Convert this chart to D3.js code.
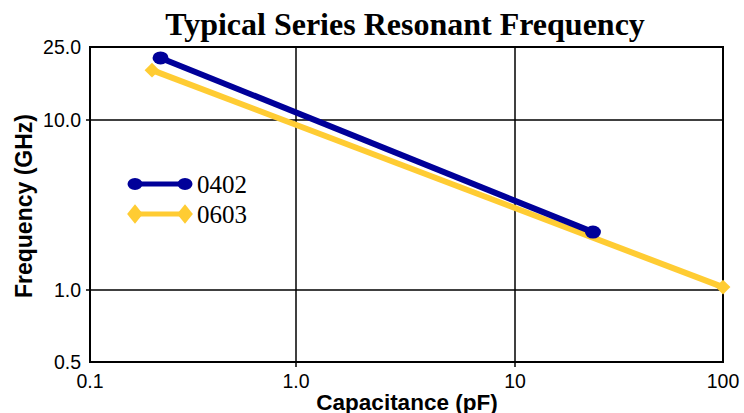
<!DOCTYPE html>
<html>
<head>
<meta charset="utf-8">
<script src="https://cdn.jsdelivr.net/npm/d3@7"></script>
<style>
  html, body { margin: 0; padding: 0; background: #fff; }
  svg { display: block; }
</style>
</head>
<body>
<svg id="chart" width="744" height="413"></svg>
<script>
// Resonant frequency (GHz) vs capacitance (pF), two case sizes
const series0402 = [
  { c: 0.22, f: 21.8 },
  { c: 23.7, f: 2.19 }
];
const series0603 = [
  { c: 0.20, f: 18.7 },
  { c: 100, f: 1.04 }
];
const xTicks = [0.1, 1, 10, 100];
const xTickLabels = ["0.1", "1.0", "10", "100"];
const yTicks = [0.5, 1, 10, 25];
const yTickLabels = ["0.5", "1.0", "10.0", "25.0"];
const legendNames = ["0402", "0603"];

const svg = d3.select("#chart");
const plotLeft = 90, plotRight = 723, plotTop = 47, plotBottom = 362;
const sans = "Liberation Sans, Arial, Helvetica, sans-serif";
const serif = "Liberation Serif, Times New Roman, serif";

// Piecewise log axes: each labelled decade gets its own span
const xLin = d3.scaleLinear()
  .domain(xTicks.map(Math.log10))
  .range([plotLeft, 296, 515, plotRight]);
const yLin = d3.scaleLinear()
  .domain(yTicks.map(Math.log10))
  .range([plotBottom, 290, 120, plotTop]);
const x = v => xLin(Math.log10(v));
const y = v => yLin(Math.log10(v));

// Grid
const g = svg.append("g");
g.selectAll("line.vx").data(xTicks.slice(1, -1)).enter().append("line")
  .attr("x1", d => x(d)).attr("x2", d => x(d))
  .attr("y1", plotTop).attr("y2", plotBottom + 5)
  .attr("stroke", "#000").attr("stroke-width", 1.5);
g.selectAll("line.hy").data(yTicks.slice(1, -1)).enter().append("line")
  .attr("x1", plotLeft - 4).attr("x2", plotRight)
  .attr("y1", d => y(d)).attr("y2", d => y(d))
  .attr("stroke", "#000").attr("stroke-width", 1.5);

// Plot frame
g.append("rect")
  .attr("x", plotLeft).attr("y", plotTop)
  .attr("width", plotRight - plotLeft).attr("height", plotBottom - plotTop)
  .attr("fill", "none").attr("stroke", "#000").attr("stroke-width", 2);

// Tick labels
svg.selectAll("text.xt").data(xTicks).enter().append("text")
  .attr("x", d => x(d)).attr("y", 388)
  .attr("text-anchor", "middle")
  .attr("font-family", sans)
  .attr("font-size", 19.5)
  .text((d, i) => xTickLabels[i]);
svg.selectAll("text.yt").data(yTicks).enter().append("text")
  .attr("x", 81).attr("y", d => y(d) + 7)
  .attr("text-anchor", "end")
  .attr("font-family", sans)
  .attr("font-size", 19.5)
  .text((d, i) => yTickLabels[i]);

// Axis titles
svg.append("text")
  .attr("x", 407).attr("y", 410)
  .attr("text-anchor", "middle")
  .attr("font-family", sans)
  .attr("font-weight", "bold").attr("font-size", 22.5)
  .text("Capacitance (pF)");
svg.append("text")
  .attr("transform", "translate(32,206) rotate(-90)")
  .attr("text-anchor", "middle")
  .attr("font-family", sans)
  .attr("font-weight", "bold").attr("font-size", 23)
  .text("Frequency (GHz)");

// Title
svg.append("text")
  .attr("x", 405).attr("y", 35)
  .attr("text-anchor", "middle")
  .attr("font-family", serif)
  .attr("font-weight", "bold").attr("font-size", 32)
  .text("Typical Series Resonant Frequency");

const blue = "#000099", gold = "#FFCC33";
const line = d3.line().x(d => x(d.c)).y(d => y(d.f));

const diamond = d3.symbol().type(d3.symbolDiamond).size(150);
const square = d3.symbol().type(d3.symbolSquare).size(110);

// 0603 series
svg.append("path").datum(series0603)
  .attr("d", line).attr("fill", "none")
  .attr("stroke", gold).attr("stroke-width", 6);
svg.selectAll("path.m603").data(series0603).enter().append("path")
  .attr("d", square)
  .attr("transform", d => `translate(${x(d.c)},${y(d.f)}) rotate(45)`)
  .attr("fill", gold);

// 0402 series
svg.append("path").datum(series0402)
  .attr("d", line).attr("fill", "none")
  .attr("stroke", blue).attr("stroke-width", 6);
svg.selectAll("ellipse.m402").data(series0402).enter().append("ellipse")
  .attr("cx", d => x(d.c)).attr("cy", d => y(d.f))
  .attr("rx", 8).attr("ry", 6.5)
  .attr("fill", blue);

// Legend
const legend = [
  { name: legendNames[0], color: blue, y: 184, mark: "ellipse" },
  { name: legendNames[1], color: gold, y: 214, mark: "diamond" }
];
legend.forEach(L => {
  svg.append("line")
    .attr("x1", 135).attr("x2", 185)
    .attr("y1", L.y).attr("y2", L.y)
    .attr("stroke", L.color).attr("stroke-width", 5);
  [135, 185].forEach(cx => {
    if (L.mark === "ellipse") {
      svg.append("ellipse").attr("cx", cx).attr("cy", L.y)
        .attr("rx", 7.5).attr("ry", 6).attr("fill", L.color);
    } else {
      svg.append("path").attr("d", diamond)
        .attr("transform", `translate(${cx},${L.y}) scale(1.2,0.85)`)
        .attr("fill", L.color);
    }
  });
  svg.append("text")
    .attr("x", 197).attr("y", L.y + 9)
    .attr("font-family", serif)
    .attr("font-size", 25)
    .text(L.name);
});
</script>
</body>
</html>
